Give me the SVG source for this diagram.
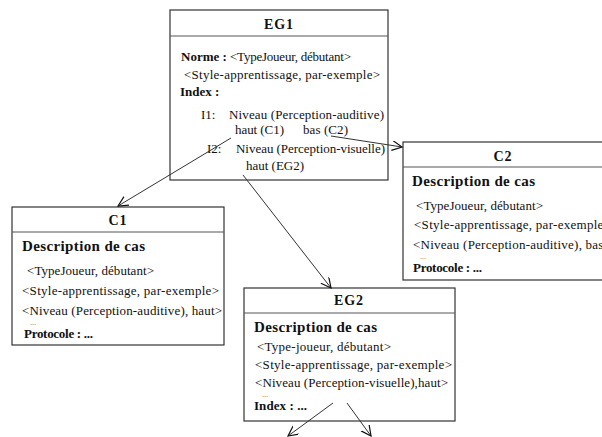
<svg xmlns="http://www.w3.org/2000/svg" width="602" height="437" viewBox="0 0 602 437">
<defs>
<marker id="arr" markerUnits="userSpaceOnUse" markerWidth="12" markerHeight="12" refX="10" refY="5" orient="auto">
<path d="M0,0 L10,5 L0,10" fill="none" stroke="#111" stroke-width="1.2"/>
</marker>
</defs>
<style>
.box{fill:#fff;stroke:#333;stroke-width:1.2}
.sep{stroke:#555;stroke-width:1}
text{font-family:"Liberation Serif","Times New Roman",serif;fill:#111;font-size:13px}
.t{font-weight:bold;font-size:14px;text-anchor:middle}
.h{font-weight:bold;font-size:15px}
.b{font-weight:bold}
.d{font-size:8px;fill:#777}
.c{fill:none;stroke:#333;stroke-width:1}
</style>
<rect x="0" y="0" width="602" height="437" fill="#fff"/>
<g id="EG1">
<rect class="box" x="170" y="10" width="218" height="170"/>
<line class="sep" x1="170" y1="36" x2="388" y2="36"/>
<text class="t" x="279" y="29" letter-spacing="1">EG1</text>
<text class="b" x="181" y="61">Norme :</text>
<text x="230" y="61" textLength="121" lengthAdjust="spacing">&lt;TypeJoueur, débutant&gt;</text>
<text x="184" y="79" textLength="196" lengthAdjust="spacing">&lt;Style-apprentissage,  par-exemple&gt;</text>
<text class="b" x="180" y="96">Index :</text>
<text x="201" y="119">I1:</text>
<text x="229" y="119" textLength="155" lengthAdjust="spacing">Niveau (Perception-auditive)</text>
<text x="235" y="134" textLength="49" lengthAdjust="spacing">haut (C1)</text>
<text x="303" y="134" textLength="45" lengthAdjust="spacing">bas (C2)</text>
<text x="207" y="153">I2:</text>
<text x="236" y="153" textLength="149" lengthAdjust="spacing">Niveau (Perception-visuelle)</text>
<text x="246" y="170" textLength="58" lengthAdjust="spacing">haut (EG2)</text>
</g>
<g id="C1">
<rect class="box" x="12" y="207" width="212" height="138"/>
<line class="sep" x1="12" y1="232" x2="224" y2="232"/>
<text class="t" x="118" y="225" letter-spacing="1">C1</text>
<text class="h" x="22" y="251" textLength="123" lengthAdjust="spacing">Description de cas</text>
<text x="27" y="275" textLength="127" lengthAdjust="spacing">&lt;TypeJoueur, débutant&gt;</text>
<text x="22" y="295" textLength="197" lengthAdjust="spacing">&lt;Style-apprentissage,  par-exemple&gt;</text>
<text x="22" y="315" textLength="200" lengthAdjust="spacing">&lt;Niveau (Perception-auditive),  haut&gt;</text>
<text class="d" x="30" y="325">...</text>
<text class="b" x="24" y="338" textLength="69" lengthAdjust="spacing">Protocole : ...</text>
</g>
<g id="C2">
<rect class="box" x="403" y="142" width="212" height="138"/>
<line class="sep" x1="403" y1="167" x2="602" y2="167"/>
<text class="t" x="503" y="161" letter-spacing="1">C2</text>
<text class="h" x="412" y="186" textLength="123" lengthAdjust="spacing">Description de cas</text>
<text x="416" y="210" textLength="127" lengthAdjust="spacing">&lt;TypeJoueur, débutant&gt;</text>
<text x="414" y="229" textLength="197" lengthAdjust="spacing">&lt;Style-apprentissage,  par-exemple&gt;</text>
<text x="413" y="249" textLength="198" lengthAdjust="spacing">&lt;Niveau (Perception-auditive), bas&gt;</text>
<text class="d" x="420" y="259">...</text>
<text class="b" x="413" y="272" textLength="69" lengthAdjust="spacing">Protocole : ...</text>
</g>
<g id="EG2">
<rect class="box" x="244" y="288" width="211" height="133"/>
<line class="sep" x1="244" y1="313" x2="455" y2="313"/>
<text class="t" x="349" y="305" letter-spacing="1">EG2</text>
<text class="h" x="254" y="332" textLength="123" lengthAdjust="spacing">Description de cas</text>
<text x="257" y="351" textLength="134" lengthAdjust="spacing">&lt;Type-joueur, débutant&gt;</text>
<text x="255" y="369" textLength="197" lengthAdjust="spacing">&lt;Style-apprentissage,  par-exemple&gt;</text>
<text x="255" y="387" textLength="193" lengthAdjust="spacing">&lt;Niveau (Perception-visuelle),haut&gt;</text>
<text class="d" x="262" y="397">...</text>
<text class="b" x="254" y="410" textLength="53" lengthAdjust="spacing">Index : ...</text>
</g>
<g id="connectors">
<line class="c" x1="231" y1="138" x2="118" y2="206" marker-end="url(#arr)"/>
<line class="c" x1="331" y1="136" x2="402" y2="147" marker-end="url(#arr)"/>
<line class="c" x1="243" y1="175" x2="331" y2="288" marker-end="url(#arr)"/>
<line class="c" x1="333" y1="403" x2="288" y2="436" marker-end="url(#arr)"/>
<line class="c" x1="347" y1="403" x2="371" y2="436" marker-end="url(#arr)"/>
</g>
</svg>
